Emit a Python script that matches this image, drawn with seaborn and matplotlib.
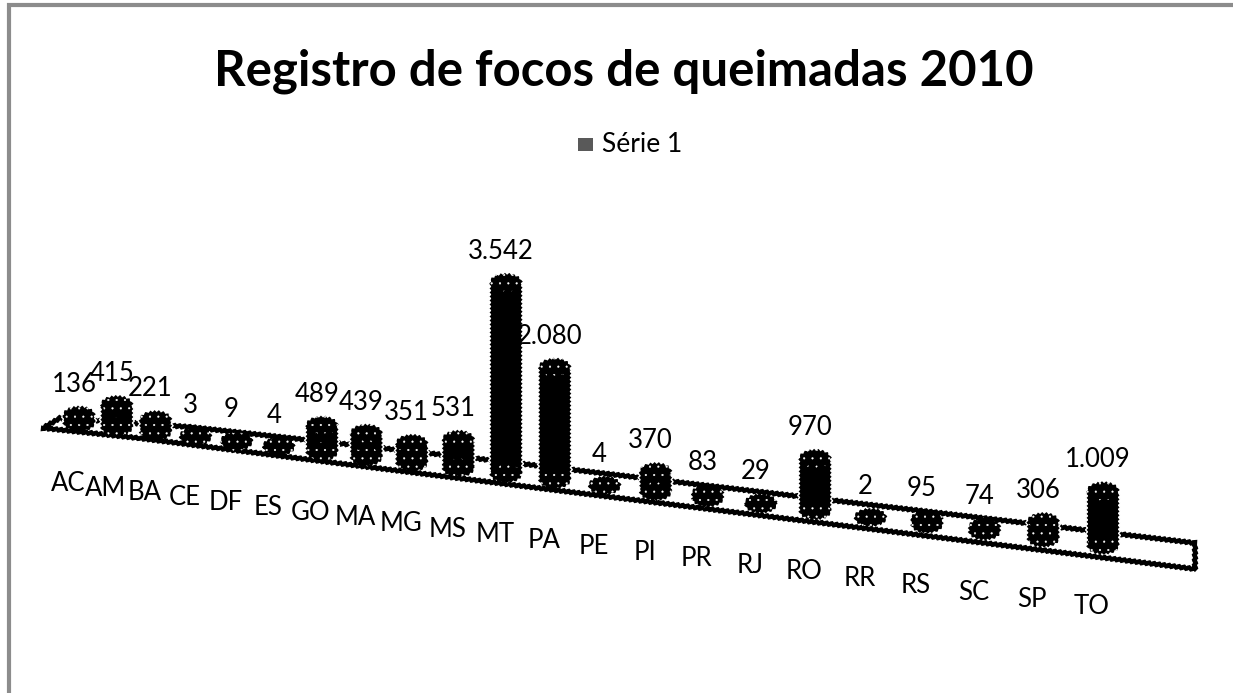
import numpy as np
import pandas as pd
import matplotlib
matplotlib.use("Agg")
import matplotlib.pyplot as plt
import seaborn as sns
from matplotlib.markers import MarkerStyle
from matplotlib.patches import Polygon
from matplotlib.transforms import Affine2D

estados = ["AC", "AM", "BA", "CE", "DF", "ES", "GO", "MA", "MG", "MS", "MT",
           "PA", "PE", "PI", "PR", "RJ", "RO", "RR", "RS", "SC", "SP", "TO"]
focos = [136, 415, 221, 3, 9, 4, 489, 439, 351, 531, 3542,
         2080, 4, 370, 83, 29, 970, 2, 95, 74, 306, 1009]
rotulos = ["136", "415", "221", "3", "9", "4", "489", "439", "351", "531", "3.542",
           "2.080", "4", "370", "83", "29", "970", "2", "95", "74", "306", "1.009"]

W, H = 1233, 693
B, C, X0 = 37.19, 0.551, 79      # perspectiva do eixo x (pixels por categoria)
PX_Y = 0.054                     # pixels por foco
SLOPE, Y0 = 0.12, 413            # inclinacao do piso


def frente(i):
    i = np.asarray(i, dtype=float)
    return B * i + C * i ** 2


def inversa(p):
    p = np.asarray(p, dtype=float)
    return (-B + np.sqrt(np.maximum(B ** 2 + 4 * C * p, 0))) / (2 * C)


sns.set_theme(style="white")
plt.rcParams["font.family"] = ["Lato", "DejaVu Sans"]
plt.rcParams["hatch.linewidth"] = 0.3

df = pd.DataFrame({"estado": estados, "focos": focos, "pos": range(len(estados))})
df["zero"] = 0

fig = plt.figure(figsize=(W / 100, H / 100), dpi=100)
ax = fig.add_axes([0, 0, 1, 1])
ax.set_xscale("function", functions=(frente, inversa))
ax.set_xlim(inversa(-X0), inversa(W - X0))
ax.set_ylim(-(H - Y0) / PX_Y, Y0 / PX_Y)

# cisalhamento em pixels: o piso desce para a direita
inclina = Affine2D(np.array([[1, 0, 0], [-SLOPE, 1, 0], [0, 0, 1]], dtype=float))
dados = ax.transData + inclina
pixel = Affine2D().scale(1, -1).translate(0, H)

# piso
piso = Polygon([(43, 428), (60, 418), (190, 427), (490, 460), (1195, 543),
                (1195, 569), (530, 487), (336, 463), (138, 438)],
               closed=True, fill=False, edgecolor="black", lw=3, transform=pixel)
piso.set_sketch_params(1.0, 5, 1)
ax.add_patch(piso)

sns.barplot(data=df, x="pos", y="focos", native_scale=True, color="black",
            saturation=1, ax=ax, legend=False, zorder=3, errorbar=None)
for p, i in zip(ax.patches[1:], df["pos"]):
    larg = 33 / (B + 2 * C * i)
    p.set_x(i - larg / 2)
    p.set_width(larg)
    p.set_transform(dados)
    p.set_sketch_params(1.0, 4, 1)

# bases e topos arredondados
elipse = MarkerStyle("o", transform=Affine2D().scale(1, 0.55))
for coluna in ["zero", "focos"]:
    sns.scatterplot(data=df, x="pos", y=coluna, marker=elipse, s=520, color="black",
                    edgecolor="white", linewidth=0, ax=ax, legend=False, zorder=4)
for c in ax.collections:
    c.set_offset_transform(dados)
    c.set_sketch_params(1.0, 4, 1)
    c.set_hatch("..")

ax.set_xlabel("")
ax.set_ylabel("")
ax.set_xticks([])
ax.set_yticks([])
for s in ax.spines.values():
    s.set_visible(False)

# rotulos de valor e de categoria seguem a inclinacao
for i, (est, rot, v) in zip(df["pos"], zip(estados, rotulos, focos)):
    desl = Affine2D().translate(-5, 31)
    ax.text(i, v, rot, transform=dados + desl, ha="center", va="center",
            fontsize=18.5, color="black", zorder=6)
    desl2 = Affine2D().translate(-11, -61)
    ax.text(i, 0, est, transform=dados + desl2, ha="center", va="center",
            fontsize=18.5, color="black", zorder=6)

fig.text(624 / W, 1 - 71 / H, "Registro de focos de queimadas 2010", ha="center", va="center",
         fontsize=35.4, fontweight="bold", color="black")

# legenda
ax.add_patch(plt.Rectangle((578, 138), 15, 13, color="#595959", transform=pixel, lw=0))
ax.text(602, 145, "Série 1", transform=pixel, ha="left", va="center", fontsize=19, color="black")

# moldura
ax.plot([9, 9, W], [H, 5, 5], color="#8c8c8c", lw=3, transform=pixel, solid_joinstyle="miter")

fig.savefig("out.png", dpi=100)
